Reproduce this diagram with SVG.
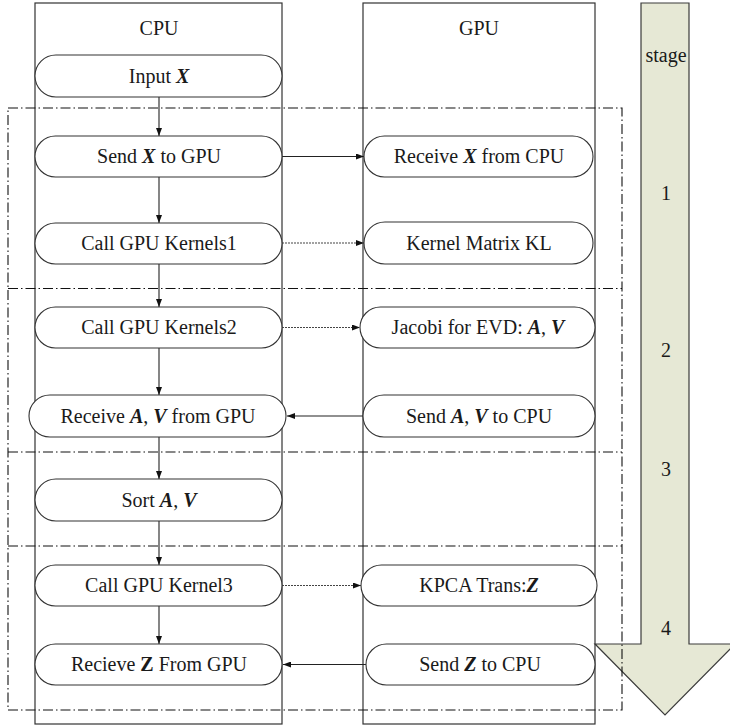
<svg xmlns="http://www.w3.org/2000/svg" width="730" height="727" viewBox="0 0 730 727">
<style>
text{font-family:'Liberation Serif','Tinos','Times New Roman',serif;font-size:20px;fill:#1a1a1a;text-anchor:middle}
.b{font-weight:bold;font-style:italic}
.bu{font-weight:bold}
.col{fill:none;stroke:#333;stroke-width:1.2}
.node rect{fill:#fff;stroke:#333;stroke-width:1.1}
.c{stroke:#222;stroke-width:1.1;fill:none}
.d{stroke:#444;stroke-width:1.1;fill:none;stroke-dasharray:2,1}
.bd{stroke:#111;stroke-width:1.1;fill:none;stroke-dasharray:10,3,1.5,3}
</style>
<defs>
<marker id="ah" markerWidth="8" markerHeight="6" refX="8" refY="3" orient="auto" markerUnits="userSpaceOnUse">
<path d="M0,0 L8,3 L0,6 z" fill="#111"/>
</marker>
</defs>
<rect width="730" height="727" fill="#fff"/>
<g font-family="Liberation Serif, serif">
<g id="stage-arrow">
<polygon points="641,3 689,3 689,644 735,644 665,715 595,644 641,644" fill="#E6E8D5" stroke="#3a3a3a" stroke-width="1.2"/>
<text x="666" y="62">stage</text>
<text x="666" y="200">1</text>
<text x="666" y="357">2</text>
<text x="666" y="476">3</text>
<text x="666" y="635">4</text>
</g>
<g id="cpu-column">
<rect class="col" x="35" y="3" width="247" height="721"/>
<text x="159" y="35">CPU</text>
</g>
<g id="gpu-column">
<rect class="col" x="363" y="3" width="232" height="721"/>
<text x="479" y="35">GPU</text>
</g>
<g id="connectors">
<line class="c" x1="159" y1="97" x2="159" y2="136" marker-end="url(#ah)"/>
<line class="c" x1="159" y1="177" x2="159" y2="223" marker-end="url(#ah)"/>
<line class="c" x1="159" y1="264" x2="159" y2="307" marker-end="url(#ah)"/>
<line class="c" x1="159" y1="348" x2="159" y2="395" marker-end="url(#ah)"/>
<line class="c" x1="159" y1="437" x2="159" y2="479" marker-end="url(#ah)"/>
<line class="c" x1="159" y1="521" x2="159" y2="565" marker-end="url(#ah)"/>
<line class="c" x1="159" y1="606" x2="159" y2="644" marker-end="url(#ah)"/>
<line class="c" x1="282" y1="156.5" x2="364" y2="156.5" marker-end="url(#ah)"/>
<line class="d" x1="282" y1="243" x2="364" y2="243" marker-end="url(#ah)"/>
<line class="d" x1="282" y1="327.5" x2="360" y2="327.5" marker-end="url(#ah)"/>
<line class="c" x1="363" y1="416" x2="287" y2="416" marker-end="url(#ah)"/>
<line class="d" x1="282" y1="585.5" x2="361" y2="585.5" marker-end="url(#ah)"/>
<line class="c" x1="366" y1="664.5" x2="283" y2="664.5" marker-end="url(#ah)"/>
</g>
<g id="n-input"><g class="node"><rect x="35" y="55" width="247" height="42" rx="21"/></g><text x="159" y="83">Input <tspan class="b">X</tspan></text></g>
<g id="n-sendx"><g class="node"><rect x="35" y="136" width="247" height="41" rx="20.5"/></g><text x="159" y="163">Send <tspan class="b">X</tspan> to GPU</text></g>
<g id="n-k1"><g class="node"><rect x="35" y="223" width="247" height="41" rx="20.5"/></g><text x="159" y="250">Call GPU Kernels1</text></g>
<g id="n-k2"><g class="node"><rect x="35" y="307" width="247" height="41" rx="20.5"/></g><text x="159" y="334">Call GPU Kernels2</text></g>
<g id="n-recav"><g class="node"><rect x="29" y="395" width="257" height="42" rx="21"/></g><text x="158" y="423">Receive <tspan class="b">A</tspan>, <tspan class="b">V</tspan> from GPU</text></g>
<g id="n-sort"><g class="node"><rect x="35" y="479" width="247" height="42" rx="21"/></g><text x="159" y="507">Sort <tspan class="b">A</tspan>, <tspan class="b">V</tspan></text></g>
<g id="n-k3"><g class="node"><rect x="35" y="565" width="247" height="41" rx="20.5"/></g><text x="159" y="592">Call GPU Kernel3</text></g>
<g id="n-recz"><g class="node"><rect x="35" y="644" width="247" height="41" rx="20.5"/></g><text x="159" y="671">Recieve <tspan class="bu">Z</tspan> From GPU</text></g>
<g id="n-recx"><g class="node"><rect x="364" y="136" width="229" height="41" rx="20.5"/></g><text x="479" y="163">Receive <tspan class="b">X</tspan> from CPU</text></g>
<g id="n-kl"><g class="node"><rect x="364" y="222" width="229" height="42" rx="21"/></g><text x="479" y="250">Kernel Matrix KL</text></g>
<g id="n-jac"><g class="node"><rect x="360" y="307" width="235" height="41" rx="20.5"/></g><text x="478" y="334">Jacobi for EVD: <tspan class="b">A</tspan>, <tspan class="b">V</tspan></text></g>
<g id="n-sendav"><g class="node"><rect x="363" y="395" width="232" height="42" rx="21"/></g><text x="479" y="423">Send <tspan class="b">A</tspan>, <tspan class="b">V</tspan> to CPU</text></g>
<g id="n-kpca"><g class="node"><rect x="361" y="565" width="236" height="41" rx="20.5"/></g><text x="479" y="592">KPCA Trans:<tspan class="b">Z</tspan></text></g>
<g id="n-sendz"><g class="node"><rect x="366" y="644" width="229" height="41" rx="20.5"/></g><text x="480" y="671">Send <tspan class="b">Z</tspan> to CPU</text></g>
<g id="stage-boundaries">
<rect class="bd" x="8" y="108" width="614" height="602"/>
<line class="bd" x1="8" y1="288.5" x2="622" y2="288.5"/>
<line class="bd" x1="8" y1="452" x2="622" y2="452"/>
<line class="bd" x1="8" y1="546" x2="622" y2="546"/>
</g>
</g>
</svg>
